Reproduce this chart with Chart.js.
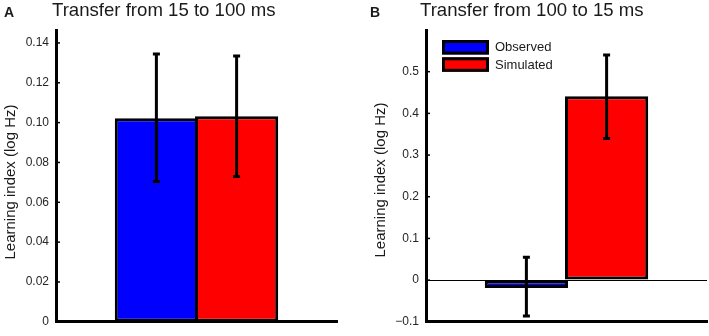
<!DOCTYPE html>
<html><head><meta charset="utf-8">
<script src="https://cdn.jsdelivr.net/npm/chart.js@4/dist/chart.umd.min.js"></script>
<style>
html,body{margin:0;padding:0;background:#fff;}
#wrap{position:relative;width:709px;height:336px;overflow:hidden;font-family:"Liberation Sans",Arial,sans-serif;}
canvas{position:absolute;top:0;}
.title{position:absolute;font-size:18.6px;line-height:18px;color:#1a1a1a;white-space:nowrap;}
.lab{position:absolute;font-size:14px;font-weight:bold;line-height:14px;color:#1a1a1a;}
</style></head><body>
<div id="wrap">
<canvas id="cA" width="360" height="336" style="left:0"></canvas>
<canvas id="cB" width="349" height="336" style="left:360px"></canvas>
<div class="lab" style="left:4px;top:5px">A</div>
<div class="title" id="tA" style="left:52px;top:1px"></div>
<div class="lab" style="left:370px;top:5px">B</div>
<div class="title" id="tB" style="left:420px;top:1px"></div>
</div>
<script>
// ---- data ----
const categories = [''];
const seriesNames = ['Observed', 'Simulated'];
const yAxisTitle = 'Learning index (log Hz)';

const panelATitle = 'Transfer from 15 to 100 ms';
const panelAValues = [0.1022, 0.1032];
const panelAErrLow = [0.0705, 0.073];
const panelAErrHigh = [0.1345, 0.1335];
const panelATicks = [0, 0.02, 0.04, 0.06, 0.08, 0.10, 0.12, 0.14];
const panelATickLabels = ['0', '0.02', '0.04', '0.06', '0.08', '0.10', '0.12', '0.14'];
const panelARange = [0, 0.1465];

const panelBTitle = 'Transfer from 100 to 15 ms';
const panelBValues = [-0.019, 0.441];
const panelBErrLow = [-0.086, 0.34];
const panelBErrHigh = [0.055, 0.54];
const panelBTicks = [-0.1, 0, 0.1, 0.2, 0.3, 0.4, 0.5];
const panelBTickLabels = ['\u22120.1', '0', '0.1', '0.2', '0.3', '0.4', '0.5'];
const panelBRange = [-0.1, 0.6];

// ---- styles ----
const seriesColors = ['#0000ff', '#ff0000'];
const FONT = '"Liberation Sans", Arial, sans-serif';
Chart.defaults.font.family = FONT;

document.getElementById('tA').textContent = panelATitle;
document.getElementById('tB').textContent = panelBTitle;

const errorBarPlugin = {
  id: 'errbars',
  afterDatasetsDraw(chart, args, opts) {
    const ctx = chart.ctx, ys = chart.scales.y;
    ctx.save();
    ctx.strokeStyle = '#000';
    ctx.lineWidth = 3;
    chart.data.datasets.forEach((ds, i) => {
      const bar = chart.getDatasetMeta(i).data[0];
      const x = bar.x;
      const yl = ys.getPixelForValue(opts.low[i]);
      const yh = ys.getPixelForValue(opts.high[i]);
      ctx.beginPath();
      ctx.moveTo(x, yl); ctx.lineTo(x, yh);
      ctx.moveTo(x - 3.5, yl); ctx.lineTo(x + 3.5, yl);
      ctx.moveTo(x - 3.5, yh); ctx.lineTo(x + 3.5, yh);
      ctx.stroke();
    });
    ctx.restore();
  }
};

const inwardTicks = {
  id: 'inticks',
  afterDraw(chart) {
    const ctx = chart.ctx, ys = chart.scales.y, x = chart.chartArea.left;
    ctx.save();
    ctx.strokeStyle = '#000';
    ctx.lineWidth = 1.5;
    ys.ticks.forEach(t => {
      const y = ys.getPixelForValue(t.value);
      ctx.beginPath(); ctx.moveTo(x, y); ctx.lineTo(x + 4, y); ctx.stroke();
    });
    ctx.restore();
  }
};

const yTitlePlugin = {
  id: 'ytitle',
  afterDraw(chart, args, opts) {
    const ctx = chart.ctx;
    ctx.save();
    ctx.translate(opts.x, opts.y);
    ctx.rotate(-Math.PI / 2);
    ctx.fillStyle = '#1a1a1a';
    ctx.font = '15px ' + FONT;
    ctx.textAlign = 'center';
    ctx.textBaseline = 'middle';
    ctx.fillText(opts.text, 0, 0);
    ctx.restore();
  }
};

const legendPlugin = {
  id: 'boxlegend',
  afterDraw(chart, args, opts) {
    if (!opts.show) return;
    const ctx = chart.ctx;
    ctx.save();
    const x = 82, w = 47, h = 14.5, ys0 = [40, 57.3];
    chart.data.datasets.forEach((ds, i) => {
      const y = ys0[i];
      ctx.fillStyle = ds.backgroundColor;
      ctx.fillRect(x, y, w, h);
      ctx.strokeStyle = '#000';
      ctx.lineWidth = 3;
      ctx.strokeRect(x + 1.5, y + 1.5, w - 3, h - 3);
      ctx.fillStyle = '#1a1a1a';
      ctx.font = '13px ' + FONT;
      ctx.textBaseline = 'middle';
      ctx.fillText(ds.label, x + w + 6, y + h / 2 + 0.5);
    });
    ctx.restore();
  }
};

function makeChart(id, values, low, high, ticks, tickLabels, range, yWidth, area, titlePos, zeroLine, showLegend) {
  const datasets = seriesNames.map((n, i) => ({
    label: n,
    data: [values[i]],
    backgroundColor: seriesColors[i],
    borderColor: '#000',
    borderWidth: 3,
    borderSkipped: false,
    barPercentage: 1.0375,
    categoryPercentage: 0.571
  }));
  const canvas = document.getElementById(id);
  const chart = new Chart(canvas, {
    type: 'bar',
    data: { labels: categories, datasets },
    options: {
      responsive: false,
      animation: false,
      layout: { padding: { top: area.top, right: canvas.width - area.right, bottom: canvas.height - area.bottom, left: 0 } },
      plugins: {
        legend: { display: false },
        tooltip: { enabled: false },
        errbars: { low, high },
        boxlegend: { show: showLegend },
        ytitle: { text: yAxisTitle, x: titlePos[0], y: titlePos[1] }
      },
      scales: {
        x: {
          ticks: { display: false },
          grid: { display: false, drawTicks: false },
          border: { display: true, color: '#000', width: 3 },
          afterFit: s => { s.height = 0; }
        },
        y: {
          min: range[0], max: range[1],
          afterBuildTicks: s => { s.ticks = ticks.map(v => ({ value: v })); },
          afterFit: s => { s.width = yWidth; },
          border: { display: true, color: '#000', width: 3 },
          grid: {
            display: zeroLine,
            drawTicks: false,
            drawOnChartArea: true,
            lineWidth: 1,
            color: c => (c.tick && Math.abs(c.tick.value) < 1e-9) ? '#000' : 'rgba(0,0,0,0)'
          },
          ticks: {
            padding: 7,
            color: '#262626',
            font: { size: 12 },
            callback: (v, i) => tickLabels[i]
          },
          title: { display: false }
        }
      }
    },
    plugins: [errorBarPlugin, inwardTicks, legendPlugin, yTitlePlugin]
  });
  // adjust layout padding so the plot area lands on the target box
  const ca = chart.chartArea, p = chart.options.layout.padding;
  p.top += area.top - ca.top;
  p.bottom += ca.bottom - area.bottom;
  p.right += ca.right - area.right;
  chart.update();
  return chart;
}

makeChart('cA', panelAValues, panelAErrLow, panelAErrHigh, panelATicks, panelATickLabels, panelARange, 56,
  { top: 30, bottom: 324, right: 337 }, [10.5, 182], false, false);
makeChart('cB', panelBValues, panelBErrLow, panelBErrHigh, panelBTicks, panelBTickLabels, panelBRange, 66,
  { top: 30, bottom: 324, right: 347 }, [20.5, 180], true, true);
</script>
</body></html>
